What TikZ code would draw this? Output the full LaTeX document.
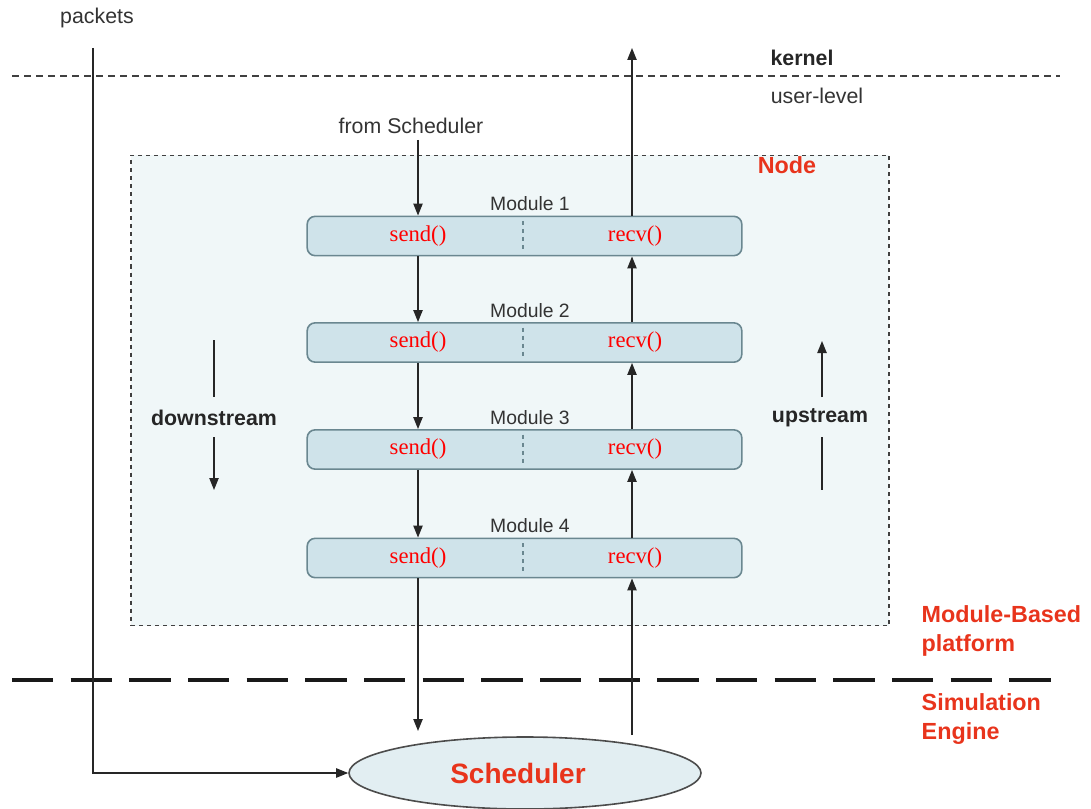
\documentclass[tikz,border=0pt]{standalone}
\usepackage{fontspec}
\setmainfont{Liberation Sans}
\newfontfamily\timesf{Liberation Serif}
\usetikzlibrary{arrows.meta,shapes.geometric}
\definecolor{nodebg}{HTML}{F0F7F8}
\definecolor{modfill}{HTML}{CFE3EA}
\definecolor{modline}{HTML}{6A8790}
\definecolor{redtxt}{HTML}{E8341C}
\definecolor{greytxt}{HTML}{333333}
\tikzset{
  arr/.style={-{Triangle[length=9pt,width=7pt]}, line width=1pt, draw=black!85},
  plain/.style={line width=1pt, draw=black!85},
  module/.style={draw=modline, line width=1.2pt, fill=modfill, rounded corners=6pt, minimum width=326pt, minimum height=29.5pt, inner sep=0pt},
  modlabel/.style={font=\fontsize{14.5pt}{16pt}\selectfont, text=greytxt},
  fn/.style={font=\timesf\fontsize{17pt}{19pt}\selectfont, text=red},
  lbl/.style={font=\fontsize{16pt}{18pt}\selectfont, text=greytxt},
  boldlbl/.style={font=\bfseries\fontsize{16pt}{18pt}\selectfont, text=black!85},
  redlbl/.style={font=\bfseries\fontsize{17.5pt}{21.5pt}\selectfont, text=redtxt, align=left},
}
\begin{document}
\begin{tikzpicture}[x=0.75pt,y=-0.75pt]
\useasboundingbox (0,0) rectangle (1091,809);
% node box
\node[draw=black!75, dashed, line width=0.9pt, fill=nodebg, minimum width=568.5pt, minimum height=353pt, inner sep=0pt] (nodebox) at (510,390.5) {};
\node[font=\bfseries\fontsize{17.5pt}{20pt}\selectfont, text=redtxt] (nodelbl) at (787,165) {Node};
% kernel line
\coordinate (kl) at (12,76);
\coordinate (kr) at (1060,76);
\draw[line width=0.8pt, draw=black!75, dash pattern=on 5pt off 4pt] (kl) -- (kr);
\node[boldlbl] (kernel) at (802,58) {kernel};
\node[lbl] (user) at (817,96) {user-level};
\node[lbl] (packets) at (97,18) {packets};
\node[lbl] (fromsch) at (411,126) {from Scheduler};
% big dashed line
\coordinate (bl) at (12,680);
\coordinate (br) at (1060,680);
\draw[line width=3pt, draw=black!90, dash pattern=on 31pt off 13pt] (bl) -- (br);
\node[redlbl, anchor=west] (mbp) at (917,631) {Module-Based\\platform};
\node[redlbl, anchor=west] (se) at (917,719) {Simulation\\Engine};
% modules
\foreach \i/\y in {1/236,2/342.5,3/449.5,4/558}{
  \node[module] (m\i) at (524.5,\y) {};
  \draw[dashed, draw=modline, line width=1pt] (523,\y-15) -- (523,\y+15);
  \node[fn] (s\i) at (418,\y) {send()};
  \node[fn] (r\i) at (635,\y) {recv()};
  \coordinate (d\i) at (418,\y);
  \coordinate (u\i) at (632,\y);
  \node[modlabel] (ml\i) at (530,\y-32) {Module \i};
}
% scheduler
\node[ellipse, draw=black!70, line width=1.2pt, fill=modfill!60!white, minimum width=264pt, minimum height=54pt, inner sep=0pt] (sched) at (525,773) {};
\node[font=\bfseries\fontsize{21pt}{24pt}\selectfont, text=redtxt] (schedtxt) at (518,773) {Scheduler};
% down arrows
\coordinate (dstart) at (418,140);
\coordinate (dend) at (418,731);
\draw[arr] (dstart) -- (d1|-m1.north);
\draw[arr] (d1|-m1.south) -- (d2|-m2.north);
\draw[arr] (d2|-m2.south) -- (d3|-m3.north);
\draw[arr] (d3|-m3.south) -- (d4|-m4.north);
\draw[arr] (d4|-m4.south) -- (dend);
% up arrows
\coordinate (top) at (632,48);
\coordinate (ustart) at (632,735);
\draw[arr] (u1|-m1.north) -- (top);
\draw[arr] (u2|-m2.north) -- (u1|-m1.south);
\draw[arr] (u3|-m3.north) -- (u2|-m2.south);
\draw[arr] (u4|-m4.north) -- (u3|-m3.south);
\draw[arr] (ustart) -- (u4|-m4.south);
% packets
\coordinate (p0) at (93,48);
\coordinate (p1) at (93,773);
\draw[arr] (p0) -- (p1) -- (sched.west);
% downstream / upstream
\node[boldlbl] (down) at (214,418) {downstream};
\coordinate (da) at (214,340);
\coordinate (db) at (214,397);
\coordinate (dc) at (214,437);
\coordinate (dd) at (214,490);
\draw[plain] (da) -- (db);
\draw[arr] (dc) -- (dd);
\node[boldlbl] (up) at (820,418) {upstream};
\coordinate (ua) at (822,397);
\coordinate (ub) at (822,341);
\coordinate (uc) at (822,437);
\coordinate (ud) at (822,490);
\draw[arr] (ua) -- (ub);
\draw[plain] (uc) -- (ud);
\end{tikzpicture}
\end{document}
